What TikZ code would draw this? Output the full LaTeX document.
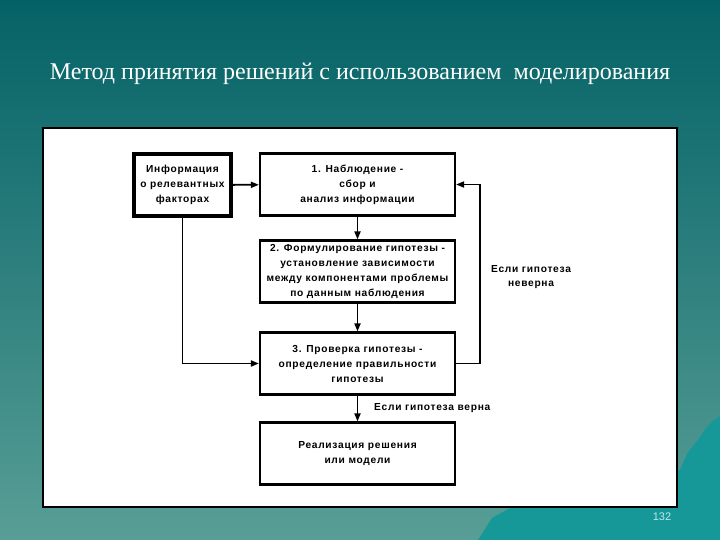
\documentclass[tikz,border=0pt]{standalone}
\usepackage{fontspec}
\setmainfont{Liberation Serif}
\newfontfamily\boxfont[LetterSpace=7]{Liberation Sans}
\newfontfamily\numfont{Liberation Sans}
\usetikzlibrary{arrows.meta}
\definecolor{bgtop}{RGB}{4,98,102}
\definecolor{bgbot}{RGB}{88,158,150}
\definecolor{mount}{RGB}{22,152,152}
\definecolor{pagenum}{RGB}{190,235,235}
\tikzset{
  stepbox/.style={draw=black, line width=2.2pt, fill=white, minimum width=195pt, minimum height=62pt, align=center, inner sep=2pt,
     font=\boxfont\bfseries\fontsize{10.2}{15}\selectfont},
  infobox/.style={stepbox, line width=3.2pt, minimum width=97pt, minimum height=62pt},
  conn/.style={line width=1.8pt, -{Triangle[length=8pt,width=6pt]}},
  lbl/.style={font=\boxfont\bfseries\fontsize{10.2}{14}\selectfont, align=center, inner sep=0pt}
}
\begin{document}
\begin{tikzpicture}[x=1pt,y=-1pt]
\useasboundingbox (0,0) rectangle (720,540);
\shade[top color=bgtop, bottom color=bgbot] (0,0) rectangle (720,540);
\fill[mount] (478,540) -- (492,518) -- (510,508) -- (600,500) -- (680,470) -- (688,452) -- (698,440) -- (706,428) -- (714,420) -- (720,416) -- (720,540) -- cycle;
\node[text=white, font=\fontsize{24}{28}\selectfont, anchor=base] (title) at (360,80) {Метод принятия решений с использованием \ моделирования};
\node[draw=black, line width=2.2pt, fill=white, minimum width=634pt, minimum height=379pt, inner sep=0pt] (panel) at (360,317.5) {};
\node[text=pagenum, font=\numfont\fontsize{11}{12}\selectfont] (pnum) at (662,517) {132};

\node[infobox] (info) at (182.5,185) {Информация\\о релевантных\\факторах};
\node[stepbox] (s1) at (357.5,184.5) {1. Наблюдение -\\сбор и\\анализ информации};
\node[stepbox] (s2) at (357.5,271.5) {2. Формулирование гипотезы -\\установление зависимости\\между компонентами проблемы\\по данным наблюдения};
\node[stepbox] (s3) at (357.5,363.5) {3. Проверка гипотезы -\\определение правильности\\гипотезы};
\node[stepbox] (s4) at (357.5,453.5) {Реализация решения\\или модели};

\coordinate (fbr) at (480,363.5);
\coordinate (fbt) at (480,184.5);
\coordinate (infl) at (182.5,363.5);

\draw[conn] (info) -- (s1);
\draw[conn] (s1) -- (s2);
\draw[conn] (s2) -- (s3);
\draw[conn] (s3) -- (s4);
\draw[conn] (info.south) -- (infl) -- (s3.west);
\draw[conn] (s3.east) -- (fbr) -- (fbt) -- (s1.east);

\node[lbl] (no) at (531,277) {Если гипотеза\\неверна};
\node[lbl, anchor=west] (yes) at (374,408) {Если гипотеза верна};
\end{tikzpicture}
\end{document}
